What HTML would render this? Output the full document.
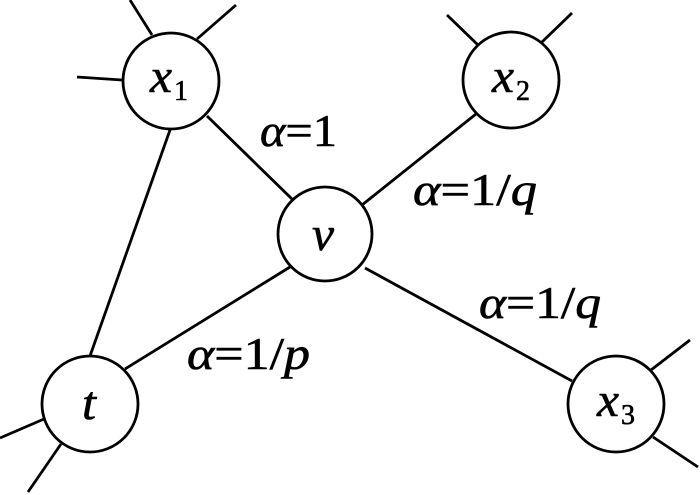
<!DOCTYPE html>
<html><head><meta charset="utf-8"><style>html,body{margin:0;padding:0;background:#fff}svg{display:block}
text,tspan{font-family:"Liberation Serif","Times New Roman","DejaVu Serif","Noto Serif CJK SC",serif}</style></head>
<body>
<svg width="700" height="495" viewBox="0 0 700 495" xmlns="http://www.w3.org/2000/svg">
<g stroke="#000" stroke-width="2.8" fill="none">
<line x1="130" y1="0" x2="152" y2="35"/>
<line x1="236" y1="5" x2="197" y2="39"/>
<line x1="77" y1="77" x2="122" y2="80"/>
<line x1="207" y1="116" x2="293" y2="200"/>
<line x1="170" y1="130" x2="90" y2="356"/>
<line x1="447" y1="15" x2="478" y2="45"/>
<line x1="572" y1="13" x2="542" y2="42"/>
<line x1="476" y1="114" x2="362" y2="205"/>
<line x1="290" y1="267" x2="125" y2="369"/>
<line x1="365" y1="268" x2="572" y2="381"/>
<line x1="690" y1="340" x2="651" y2="370"/>
<line x1="698" y1="467" x2="653" y2="437"/>
<line x1="0" y1="438" x2="44" y2="419"/>
<line x1="28" y1="492" x2="61" y2="444"/>
<circle cx="171" cy="81" r="48" fill="#fff"/>
<circle cx="511" cy="80" r="48" fill="#fff"/>
<circle cx="325" cy="234" r="47" fill="#fff"/>
<circle cx="90" cy="404" r="48" fill="#fff"/>
<circle cx="616" cy="404" r="48" fill="#fff"/>
</g>
<g fill="#000" stroke="#000" stroke-width="0.6">
<text x="150" y="92" font-size="48" font-style="italic" textLength="22" lengthAdjust="spacingAndGlyphs">x</text><text x="174" y="100" font-size="28">1</text>
<text x="492" y="92" font-size="48" font-style="italic" textLength="22" lengthAdjust="spacingAndGlyphs">x</text><text x="516" y="100" font-size="28">2</text>
<text x="597" y="416" font-size="48" font-style="italic" textLength="22" lengthAdjust="spacingAndGlyphs">x</text><text x="621" y="424" font-size="28">3</text>
<text x="312" y="250" font-size="48" font-style="italic" textLength="22" lengthAdjust="spacingAndGlyphs">v</text>
<text x="82" y="419" font-size="48" font-style="italic" textLength="14" lengthAdjust="spacingAndGlyphs">t</text>
<text x="260" y="146" font-size="46" textLength="77" lengthAdjust="spacingAndGlyphs"><tspan font-style="italic">α</tspan>=1</text>
<text x="413" y="205" font-size="46" textLength="124" lengthAdjust="spacingAndGlyphs"><tspan font-style="italic">α</tspan>=1/<tspan font-style="italic">q</tspan></text>
<text x="479" y="318" font-size="46" textLength="122" lengthAdjust="spacingAndGlyphs"><tspan font-style="italic">α</tspan>=1/<tspan font-style="italic">q</tspan></text>
<text x="187" y="369" font-size="46" textLength="123" lengthAdjust="spacingAndGlyphs"><tspan font-style="italic">α</tspan>=1/<tspan font-style="italic">p</tspan></text>
</g>
</svg>
</body></html>
